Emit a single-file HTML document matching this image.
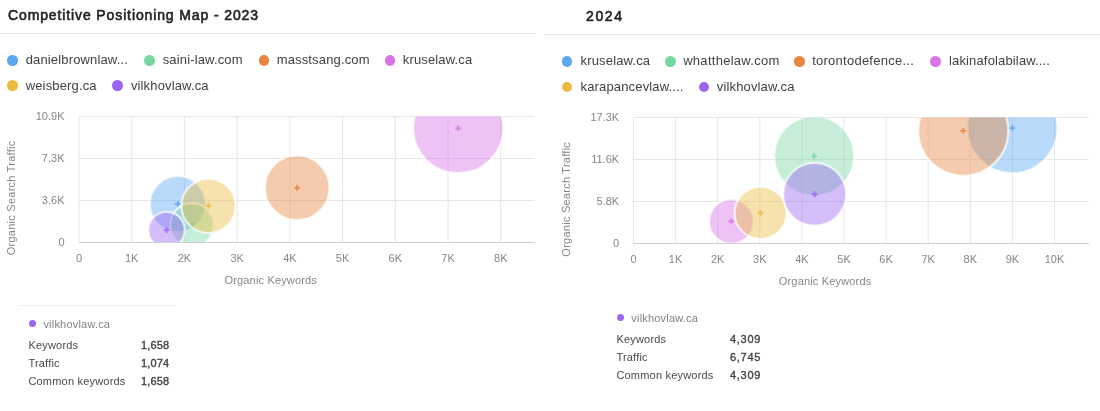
<!DOCTYPE html>
<html><head><meta charset="utf-8"><style>
html,body{margin:0;padding:0;background:#fff;width:1100px;height:411px;overflow:hidden;position:relative;font-family:"Liberation Sans", sans-serif;}
.t{position:absolute;font-size:14px;font-weight:normal;color:#222328;-webkit-text-stroke:0.6px #222328;letter-spacing:0.88px;white-space:nowrap;line-height:0;}
.hr{position:absolute;height:1px;background:#e4e5e9;}
.dot{position:absolute;width:10.6px;height:10.6px;border-radius:50%;}
.lt{position:absolute;font-size:13px;color:#414145;white-space:nowrap;line-height:0;letter-spacing:0.15px;}
svg{position:absolute;left:0;top:0;}
.ax{font-family:"Liberation Sans", sans-serif;font-size:11px;fill:#84868c;}
.tt{position:absolute;font-size:11px;color:#48484d;white-space:nowrap;line-height:0;letter-spacing:0.2px;}
.tn{position:absolute;font-size:11px;color:#818288;white-space:nowrap;line-height:0;letter-spacing:0.2px;}
.tv{position:absolute;font-size:11px;font-weight:normal;-webkit-text-stroke:0.35px #414145;color:#414145;white-space:nowrap;line-height:0;text-align:right;}
.tdot{position:absolute;width:7px;height:7px;border-radius:50%;background:#9b66f2;}
#wrap{position:absolute;left:0;top:0;width:1100px;height:411px;will-change:transform;background:#fff;}
</style></head><body><div id="wrap">
<div class="t" style="left:8px;top:15.45px">Competitive Positioning Map - 2023</div>
<div class="t" style="letter-spacing:1.6px;left:586px;top:16.35px">2024</div>
<div class="hr" style="left:0;top:33px;width:536px"></div>
<div class="hr" style="left:544px;top:34px;width:556px"></div>
<div class="dot" style="left:7.40px;top:55.20px;background:#5ba7f2"></div>
<div class="lt" style="letter-spacing:0.15px;left:25.70px;top:60.30px">danielbrownlaw...</div>
<div class="dot" style="left:144.20px;top:55.20px;background:#78d6a4"></div>
<div class="lt" style="letter-spacing:0.15px;left:162.70px;top:60.30px">saini-law.com</div>
<div class="dot" style="left:258.70px;top:55.20px;background:#e6863f"></div>
<div class="lt" style="letter-spacing:0.15px;left:276.70px;top:60.30px">masstsang.com</div>
<div class="dot" style="left:384.70px;top:55.20px;background:#da72ea"></div>
<div class="lt" style="letter-spacing:0.15px;left:402.80px;top:60.30px">kruselaw.ca</div>
<div class="dot" style="left:7.40px;top:80.30px;background:#eabb40"></div>
<div class="lt" style="letter-spacing:0.15px;left:25.70px;top:85.50px">weisberg.ca</div>
<div class="dot" style="left:112.20px;top:80.30px;background:#9b66f2"></div>
<div class="lt" style="letter-spacing:0.15px;left:130.90px;top:85.50px">vilkhovlaw.ca</div>
<div class="dot" style="left:561.70px;top:56.20px;background:#5ba7f2"></div>
<div class="lt" style="letter-spacing:0.15px;left:580.60px;top:60.80px">kruselaw.ca</div>
<div class="dot" style="left:665.00px;top:56.20px;background:#78d6a4"></div>
<div class="lt" style="letter-spacing:0.28px;left:683.20px;top:60.80px">whatthelaw.com</div>
<div class="dot" style="left:794.20px;top:56.20px;background:#e6863f"></div>
<div class="lt" style="letter-spacing:0.25px;left:812.20px;top:60.80px">torontodefence...</div>
<div class="dot" style="left:930.20px;top:56.20px;background:#da72ea"></div>
<div class="lt" style="letter-spacing:0.15px;left:949.00px;top:60.80px">lakinafolabilaw....</div>
<div class="dot" style="left:561.70px;top:81.70px;background:#eabb40"></div>
<div class="lt" style="letter-spacing:0.15px;left:580.60px;top:87.00px">karapancevlaw....</div>
<div class="dot" style="left:698.70px;top:81.70px;background:#9b66f2"></div>
<div class="lt" style="letter-spacing:0.15px;left:716.80px;top:87.00px">vilkhovlaw.ca</div>
<svg width="1100" height="411">
<clipPath id="c1"><rect x="79.0" y="116.5" width="455.6" height="126.0"/></clipPath>
<line x1="79.00" y1="116.5" x2="79.00" y2="242.5" stroke="#e5e5e8" stroke-width="1"/>
<line x1="131.72" y1="116.5" x2="131.72" y2="242.5" stroke="#e5e5e8" stroke-width="1"/>
<line x1="184.44" y1="116.5" x2="184.44" y2="242.5" stroke="#e5e5e8" stroke-width="1"/>
<line x1="237.16" y1="116.5" x2="237.16" y2="242.5" stroke="#e5e5e8" stroke-width="1"/>
<line x1="289.88" y1="116.5" x2="289.88" y2="242.5" stroke="#e5e5e8" stroke-width="1"/>
<line x1="342.60" y1="116.5" x2="342.60" y2="242.5" stroke="#e5e5e8" stroke-width="1"/>
<line x1="395.32" y1="116.5" x2="395.32" y2="242.5" stroke="#e5e5e8" stroke-width="1"/>
<line x1="448.04" y1="116.5" x2="448.04" y2="242.5" stroke="#e5e5e8" stroke-width="1"/>
<line x1="500.76" y1="116.5" x2="500.76" y2="242.5" stroke="#e5e5e8" stroke-width="1"/>
<line x1="79.0" y1="116.50" x2="534.6" y2="116.50" stroke="#e5e5e8" stroke-width="1"/>
<line x1="79.0" y1="158.50" x2="534.6" y2="158.50" stroke="#e5e5e8" stroke-width="1"/>
<line x1="79.0" y1="200.50" x2="534.6" y2="200.50" stroke="#e5e5e8" stroke-width="1"/>
<g clip-path="url(#c1)">
<circle cx="177.8" cy="204.0" r="28.00" fill="#5ba7f2" fill-opacity="0.43" stroke="#fff" stroke-opacity="0.7" stroke-width="2.2"/>
<path d="M174.90 204.00H180.70M177.80 201.10V206.90" stroke="#5ba7f2" stroke-width="1.8" stroke-opacity="0.85"/>
<circle cx="192.0" cy="225.0" r="21.80" fill="#78d6a4" fill-opacity="0.43" stroke="#fff" stroke-opacity="0.7" stroke-width="2.2"/>
<path d="M189.10 225.00H194.90M192.00 222.10V227.90" stroke="#78d6a4" stroke-width="1.8" stroke-opacity="0.85"/>
<circle cx="297.15" cy="187.75" r="32.30" fill="#e6863f" fill-opacity="0.43" stroke="#fff" stroke-opacity="0.7" stroke-width="2.2"/>
<path d="M294.25 187.75H300.05M297.15 184.85V190.65" stroke="#e6863f" stroke-width="1.8" stroke-opacity="0.85"/>
<circle cx="458.2" cy="128.1" r="45.10" fill="#da72ea" fill-opacity="0.43" stroke="#fff" stroke-opacity="0.7" stroke-width="2.2"/>
<path d="M455.30 128.10H461.10M458.20 125.20V131.00" stroke="#da72ea" stroke-width="1.8" stroke-opacity="0.85"/>
<circle cx="208.5" cy="205.9" r="27.10" fill="#eabb40" fill-opacity="0.43" stroke="#fff" stroke-opacity="0.7" stroke-width="2.2"/>
<path d="M205.60 205.90H211.40M208.50 203.00V208.80" stroke="#eabb40" stroke-width="1.8" stroke-opacity="0.85"/>
<circle cx="166.55" cy="230.05" r="18.25" fill="#9b66f2" fill-opacity="0.43" stroke="#fff" stroke-opacity="0.7" stroke-width="2.2"/>
<path d="M163.65 230.05H169.45M166.55 227.15V232.95" stroke="#9b66f2" stroke-width="1.8" stroke-opacity="0.85"/>
</g>
<line x1="79.0" y1="242.5" x2="534.6" y2="242.5" stroke="#cfd0d6" stroke-width="1"/>
<text x="64.5" y="120.10" text-anchor="end" class="ax">10.9K</text>
<text x="64.5" y="162.10" text-anchor="end" class="ax">7.3K</text>
<text x="64.5" y="204.10" text-anchor="end" class="ax">3.6K</text>
<text x="64.5" y="246.10" text-anchor="end" class="ax">0</text>
<text x="79.00" y="261.5" text-anchor="middle" class="ax">0</text>
<text x="131.72" y="261.5" text-anchor="middle" class="ax">1K</text>
<text x="184.44" y="261.5" text-anchor="middle" class="ax">2K</text>
<text x="237.16" y="261.5" text-anchor="middle" class="ax">3K</text>
<text x="289.88" y="261.5" text-anchor="middle" class="ax">4K</text>
<text x="342.60" y="261.5" text-anchor="middle" class="ax">5K</text>
<text x="395.32" y="261.5" text-anchor="middle" class="ax">6K</text>
<text x="448.04" y="261.5" text-anchor="middle" class="ax">7K</text>
<text x="500.76" y="261.5" text-anchor="middle" class="ax">8K</text>
<clipPath id="c2"><rect x="633.5" y="117.5" width="455.29999999999995" height="126.0"/></clipPath>
<line x1="633.50" y1="117.5" x2="633.50" y2="243.5" stroke="#e5e5e8" stroke-width="1"/>
<line x1="675.60" y1="117.5" x2="675.60" y2="243.5" stroke="#e5e5e8" stroke-width="1"/>
<line x1="717.70" y1="117.5" x2="717.70" y2="243.5" stroke="#e5e5e8" stroke-width="1"/>
<line x1="759.80" y1="117.5" x2="759.80" y2="243.5" stroke="#e5e5e8" stroke-width="1"/>
<line x1="801.90" y1="117.5" x2="801.90" y2="243.5" stroke="#e5e5e8" stroke-width="1"/>
<line x1="844.00" y1="117.5" x2="844.00" y2="243.5" stroke="#e5e5e8" stroke-width="1"/>
<line x1="886.10" y1="117.5" x2="886.10" y2="243.5" stroke="#e5e5e8" stroke-width="1"/>
<line x1="928.20" y1="117.5" x2="928.20" y2="243.5" stroke="#e5e5e8" stroke-width="1"/>
<line x1="970.30" y1="117.5" x2="970.30" y2="243.5" stroke="#e5e5e8" stroke-width="1"/>
<line x1="1012.40" y1="117.5" x2="1012.40" y2="243.5" stroke="#e5e5e8" stroke-width="1"/>
<line x1="1054.50" y1="117.5" x2="1054.50" y2="243.5" stroke="#e5e5e8" stroke-width="1"/>
<line x1="633.5" y1="117.50" x2="1088.8" y2="117.50" stroke="#e5e5e8" stroke-width="1"/>
<line x1="633.5" y1="159.50" x2="1088.8" y2="159.50" stroke="#e5e5e8" stroke-width="1"/>
<line x1="633.5" y1="201.50" x2="1088.8" y2="201.50" stroke="#e5e5e8" stroke-width="1"/>
<g clip-path="url(#c2)">
<circle cx="1012.3" cy="128.1" r="45.20" fill="#5ba7f2" fill-opacity="0.43" stroke="#fff" stroke-opacity="0.7" stroke-width="2.2"/>
<path d="M1009.40 128.10H1015.20M1012.30 125.20V131.00" stroke="#5ba7f2" stroke-width="1.8" stroke-opacity="0.85"/>
<circle cx="814.2" cy="156.1" r="40.00" fill="#78d6a4" fill-opacity="0.43" stroke="#fff" stroke-opacity="0.7" stroke-width="2.2"/>
<path d="M811.30 156.10H817.10M814.20 153.20V159.00" stroke="#78d6a4" stroke-width="1.8" stroke-opacity="0.85"/>
<circle cx="963.3" cy="130.8" r="45.00" fill="#e6863f" fill-opacity="0.43" stroke="#fff" stroke-opacity="0.7" stroke-width="2.2"/>
<path d="M960.40 130.80H966.20M963.30 127.90V133.70" stroke="#e6863f" stroke-width="1.8" stroke-opacity="0.85"/>
<circle cx="731.3" cy="221.4" r="22.30" fill="#da72ea" fill-opacity="0.43" stroke="#fff" stroke-opacity="0.7" stroke-width="2.2"/>
<path d="M728.40 221.40H734.20M731.30 218.50V224.30" stroke="#da72ea" stroke-width="1.8" stroke-opacity="0.85"/>
<circle cx="760.6" cy="212.9" r="26.00" fill="#eabb40" fill-opacity="0.43" stroke="#fff" stroke-opacity="0.7" stroke-width="2.2"/>
<path d="M757.70 212.90H763.50M760.60 210.00V215.80" stroke="#eabb40" stroke-width="1.8" stroke-opacity="0.85"/>
<circle cx="814.65" cy="194.25" r="31.45" fill="#9b66f2" fill-opacity="0.43" stroke="#fff" stroke-opacity="0.7" stroke-width="2.2"/>
<path d="M811.75 194.25H817.55M814.65 191.35V197.15" stroke="#9b66f2" stroke-width="1.8" stroke-opacity="0.85"/>
</g>
<line x1="633.5" y1="243.5" x2="1088.8" y2="243.5" stroke="#cfd0d6" stroke-width="1"/>
<text x="619.2" y="121.10" text-anchor="end" class="ax">17.3K</text>
<text x="619.2" y="163.10" text-anchor="end" class="ax">11.6K</text>
<text x="619.2" y="205.10" text-anchor="end" class="ax">5.8K</text>
<text x="619.2" y="247.10" text-anchor="end" class="ax">0</text>
<text x="633.50" y="262.6" text-anchor="middle" class="ax">0</text>
<text x="675.60" y="262.6" text-anchor="middle" class="ax">1K</text>
<text x="717.70" y="262.6" text-anchor="middle" class="ax">2K</text>
<text x="759.80" y="262.6" text-anchor="middle" class="ax">3K</text>
<text x="801.90" y="262.6" text-anchor="middle" class="ax">4K</text>
<text x="844.00" y="262.6" text-anchor="middle" class="ax">5K</text>
<text x="886.10" y="262.6" text-anchor="middle" class="ax">6K</text>
<text x="928.20" y="262.6" text-anchor="middle" class="ax">7K</text>
<text x="970.30" y="262.6" text-anchor="middle" class="ax">8K</text>
<text x="1012.40" y="262.6" text-anchor="middle" class="ax">9K</text>
<text x="1054.50" y="262.6" text-anchor="middle" class="ax">10K</text>
<text x="270.75" y="283.5" text-anchor="middle" class="ax" style="letter-spacing:0.17px">Organic Keywords</text>
<text x="825.1" y="284.5" text-anchor="middle" class="ax" style="letter-spacing:0.17px">Organic Keywords</text>
<text transform="translate(14.8,197.9) rotate(-90)" text-anchor="middle" class="ax" style="letter-spacing:0.25px">Organic Search Traffic</text>
<text transform="translate(570.2,199.3) rotate(-90)" text-anchor="middle" class="ax" style="letter-spacing:0.25px">Organic Search Traffic</text>
</svg>
<div class="hr" style="left:18px;top:305px;width:158px;background:#efeff2"></div>
<div class="tdot" style="left:28.50px;top:320.20px"></div>
<div class="tn" style="left:43.4px;top:323.59px">vilkhovlaw.ca</div>
<div class="tt" style="left:28.4px;top:345.09px">Keywords</div>
<div class="tv" style="letter-spacing:0.15px;right:930.65px;top:345.09px">1,658</div>
<div class="tt" style="left:28.4px;top:362.99px">Traffic</div>
<div class="tv" style="letter-spacing:0.15px;right:930.65px;top:362.99px">1,074</div>
<div class="tt" style="left:28.4px;top:380.79px">Common keywords</div>
<div class="tv" style="letter-spacing:0.15px;right:930.65px;top:380.79px">1,658</div>
<div class="tdot" style="left:616.50px;top:314.40px"></div>
<div class="tn" style="left:631.3px;top:317.69px">vilkhovlaw.ca</div>
<div class="tt" style="left:616.4px;top:339.19px">Keywords</div>
<div class="tv" style="letter-spacing:0.75px;right:338.85px;top:339.19px">4,309</div>
<div class="tt" style="left:616.4px;top:357.09px">Traffic</div>
<div class="tv" style="letter-spacing:0.75px;right:338.85px;top:357.09px">6,745</div>
<div class="tt" style="left:616.4px;top:375.09px">Common keywords</div>
<div class="tv" style="letter-spacing:0.75px;right:338.85px;top:375.09px">4,309</div>
</div></body></html>
